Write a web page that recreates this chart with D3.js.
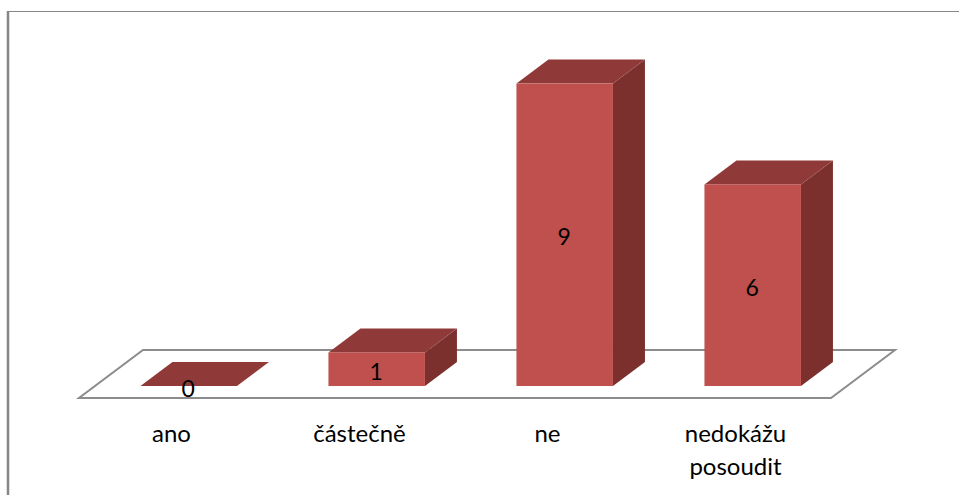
<!DOCTYPE html>
<html><head><meta charset="utf-8">
<script src="https://cdn.jsdelivr.net/npm/d3@7/dist/d3.min.js"></script>
<style>html,body{margin:0;padding:0;background:#fff;overflow:hidden}svg{display:block}</style>
</head><body><svg id="c" width="959" height="495"></svg>
<script>
const categories = ["ano", "částečně", "ne", "nedokážu posoudit"];
const values = [0, 1, 9, 6];
const categoryLines = [["ano"], ["částečně"], ["ne"], ["nedokážu", "posoudit"]];

const svg = d3.select("#c");
const font = "Lato, Carlito, Calibri, sans-serif";
const front = "#c0504d", top_ = "#8f3a38", side = "#7b302e", grey = "#8c8c8c";

// frame
svg.append("line").attr("x1", 8).attr("x2", 959).attr("y1", 11.5).attr("y2", 11.5).attr("stroke", "#868686");
svg.append("line").attr("x1", 8).attr("x2", 8).attr("y1", 11).attr("y2", 495).attr("stroke", "#868686").attr("stroke-width", 2.5);

const x = d3.scaleBand().domain(categories).range([79, 831]).paddingInner(0);
const y = d3.scaleLinear().domain([0, 9]).range([386, 83.6]);
const floorFront = 398, floorDx = 64, floorDy = -48;
const barW = 96.5, dx = floorDx / 2, dy = floorDy / 2;

// floor
svg.append("path")
  .attr("d", d3.line()([[79, floorFront], [831, floorFront], [831 + floorDx, floorFront + floorDy], [79 + floorDx, floorFront + floorDy]]) + "Z")
  .attr("fill", "#fff").attr("stroke", grey).attr("stroke-width", 2).attr("stroke-linejoin", "miter");

const g = svg.selectAll("g.bar").data(categories.map((c, i) => ({c, v: values[i], lines: categoryLines[i]}))).join("g").attr("class", "bar");
const bx = d => x(d.c) + x.bandwidth() / 2 + dx / 2 - barW / 2 - 0.3;

g.filter(d => d.v > 0).append("path").attr("fill", side).attr("d", d => {
  const r = bx(d) + barW;
  return d3.line()([[r, y(0)], [r + dx, y(0) + dy], [r + dx, y(d.v) + dy], [r, y(d.v)]]) + "Z";
});
g.append("path").attr("fill", top_).attr("d", d => {
  const l = bx(d), t = y(d.v);
  return d3.line()([[l, t], [l + barW, t], [l + barW + dx, t + dy], [l + dx, t + dy]]) + "Z";
});
g.filter(d => d.v > 0).append("rect").attr("fill", front)
  .attr("x", bx).attr("y", d => y(d.v)).attr("width", barW).attr("height", d => y(0) - y(d.v));

// value labels
g.append("text").attr("font-family", font).attr("font-size", 23).attr("fill", "#000").attr("text-anchor", "middle")
  .attr("x", d => bx(d) + barW / 2 - 0.5)
  .attr("y", d => (y(d.v) + y(0)) / 2 + 10.5)
  .text(d => d.v);

// category labels
g.append("text").attr("font-family", font).attr("font-size", 24).attr("fill", "#000").attr("text-anchor", "middle")
  .selectAll("tspan").data(d => d.lines.map(l => ({l, d}))).join("tspan")
  .attr("x", o => x(o.d.c) + x.bandwidth() / 2 - 1.5)
  .attr("y", (o, i) => 442 + i * 33)
  .text(o => o.l);
</script></body></html>
